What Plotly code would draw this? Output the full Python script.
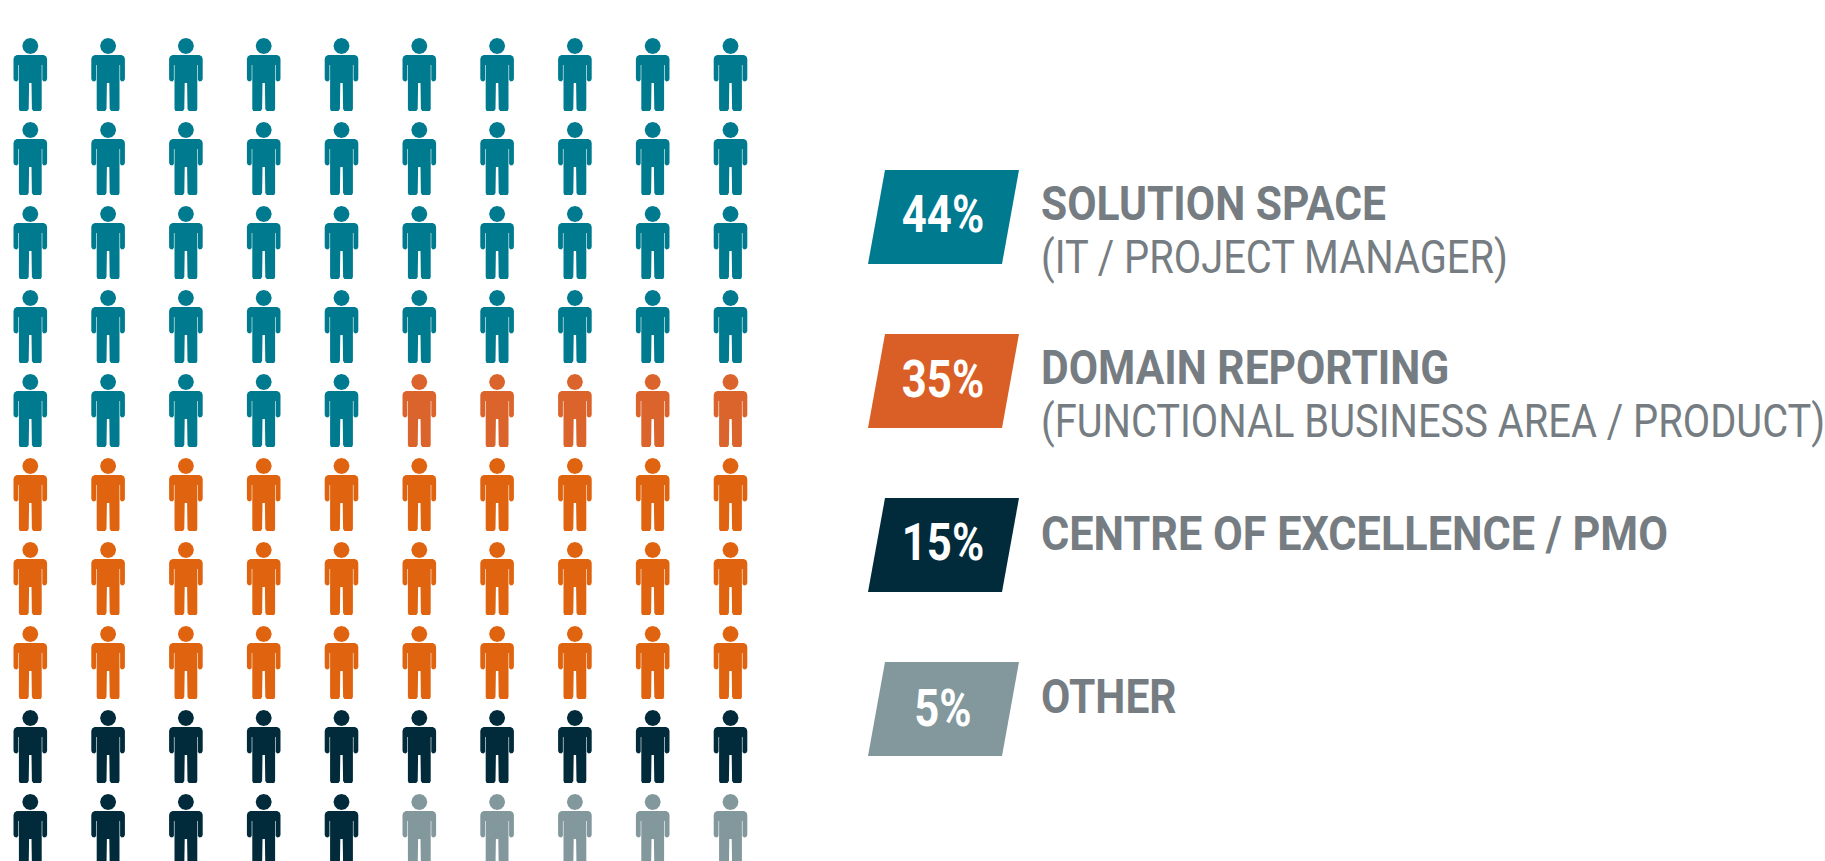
import plotly.graph_objects as go

# --- data ---
categories = ["Solution space", "Domain reporting", "Centre of excellence", "Other"]
percent_labels = ["44%", "35%", "15%", "5%"]
people_counts = [45, 35, 15, 5]
titles = ["SOLUTION SPACE", "DOMAIN REPORTING", "CENTRE OF EXCELLENCE / PMO", "OTHER"]
subtitles = ["(IT / PROJECT MANAGER)", "(FUNCTIONAL BUSINESS AREA / PRODUCT)", "", ""]
icon_colors = ["#007A8F", "#E0640F", "#012B3A", "#82989C"]
badge_colors = ["#007A8F", "#DA5F26", "#012B3A", "#82989C"]
ORANGE_ROW5 = "#DB642C"   # the five orange figures that share a row with teal are a duller orange
TEXT = "#767D82"
SANS = "Roboto, sans-serif"

COLS, ROWS = 10, 10
X0, DX, Y0, DY = 30.3, 77.8, 45, 84.0

# person outline relative to head centre (px), slightly rounded corners
body = [(-13.5,10),(13.5,10),(16,11.5),(16.8,14),(16.8,34),(15.8,36),(13.5,36.5),(12,35),(12,20),(11.4,20),
        (11.4,64),(10.5,66),(3,66),(1.6,64),(1.2,38),(-1.2,38),(-1.6,64),(-3,66),(-10.5,66),(-11.4,64),
        (-11.4,20),(-12,20),(-12,35),(-13.5,36.5),(-15.8,36),(-16.8,34),(-16.8,14),(-16,11.5),(-13.5,10)]
head = [(8,1),(6.9,5),(4,7.9),(0,9),(-4,7.9),(-6.9,5),(-8,1),(-6.9,-3),(-4,-5.9),(0,-7),(4,-5.9),(6.9,-3),(8,1)]

groups = {}
idx = 0
for name, n, col in zip(categories, people_counts, icon_colors):
    for _ in range(n):
        r, c = idx // COLS, idx % COLS
        key = (name, ORANGE_ROW5 if (name == "Domain reporting" and r == 4) else col)
        xs, ys = groups.setdefault(key, ([], []))
        cx, cy = X0 + c * DX, Y0 + r * DY
        for poly in (body, head):
            xs += [cx + p[0] for p in poly] + [None]
            ys += [cy + p[1] for p in poly] + [None]
        idx += 1

fig = go.Figure()
for (name, col), (xs, ys) in groups.items():
    fig.add_trace(go.Scatter(x=xs, y=ys, mode="lines", fill="toself", fillcolor=col,
                             line=dict(width=0, color=col), name=name, hoverinfo="name"))

# legend badges
BADGE_TOP = [170, 334, 498, 662]
BADGE_H = 94
for top, col in zip(BADGE_TOP, badge_colors):
    bot = top + BADGE_H
    fig.add_trace(go.Scatter(x=[885, 1019, 1002, 868, 885], y=[top, top, bot, bot, top], mode="lines",
                             fill="toself", fillcolor=col, line=dict(width=0, color=col),
                             hoverinfo="skip"))


def label(x, y, text, size, color, weight, pos):
    fig.add_trace(go.Scatter(x=[x], y=[y], mode="text", text=[text], textposition=pos,
                             textfont=dict(family=SANS, size=size, color=color, weight=weight),
                             hoverinfo="skip"))


BADGE_TEXT_Y = [218, 383, 546, 712]
for y, pct in zip(BADGE_TEXT_Y, percent_labels):
    label(943, y + 1, pct, 52, "white", 700, "middle center")

TITLE_Y = [208, 372, 538, 701]
SUB_Y = [261, 425, None, None]
for t, s, ty, sy in zip(titles, subtitles, TITLE_Y, SUB_Y):
    label(1041, ty, t, 48, TEXT, 700, "middle right")
    if s:
        label(1041, sy, s, 46, TEXT, 400, "middle right")

fig.update_layout(width=1825, height=861, margin=dict(l=0, r=0, t=0, b=0), showlegend=False,
                  paper_bgcolor="white", plot_bgcolor="white",
                  xaxis=dict(range=[0, 1825], visible=False, fixedrange=True),
                  yaxis=dict(range=[861, 0], visible=False, fixedrange=True))

# page margin off; the reference's lettering is condensed, so narrow the real text elements
post = """
document.body.style.margin = '0';
document.documentElement.style.overflow = 'hidden';
function narrow() {
  document.querySelectorAll('.textpoint text').forEach(function (t) {
    if (t.hasAttribute('textLength')) return;
    var s = t.textContent;
    var k = s.charAt(0) === '(' ? 0.866 : (s.slice(-1) === '%' ? 0.84 : (s.indexOf('PMO') >= 0 ? 0.90 : 0.887));
    t.setAttribute('textLength', t.getComputedTextLength() * k);
    t.setAttribute('lengthAdjust', 'spacingAndGlyphs');
  });
}
narrow();
setTimeout(narrow, 50);
"""
fig.write_html("out.html", config={"displayModeBar": False}, post_script=post)
